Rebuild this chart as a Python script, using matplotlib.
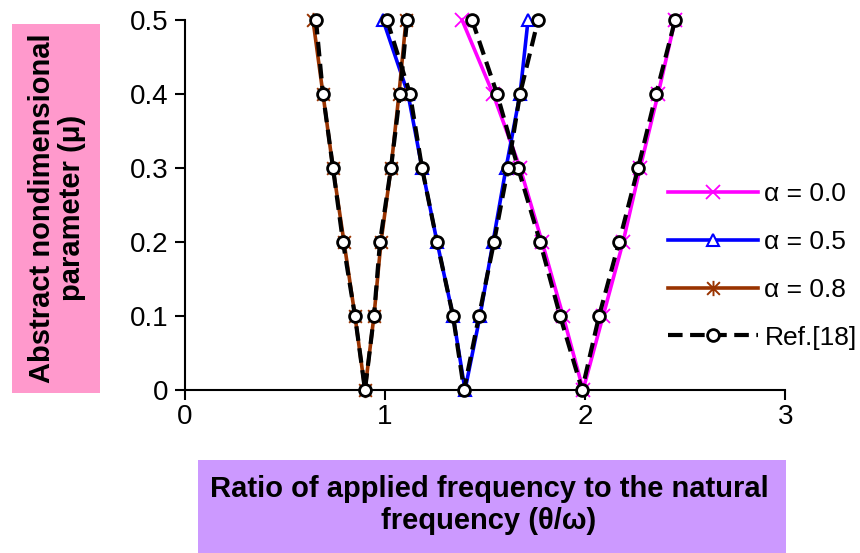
import matplotlib
matplotlib.use("Agg")
import matplotlib.pyplot as plt
from matplotlib.patches import Rectangle
from matplotlib.path import Path

plt.rcParams['font.family'] = ['Liberation Sans', 'DejaVu Sans']

# mu values along each V: down the left branch, then up the right branch
mu = [0.5, 0.4, 0.3, 0.2, 0.1, 0.0, 0.1, 0.2, 0.3, 0.4, 0.5]

# present results, theta/omega for each mu
a00 = [1.385, 1.54, 1.675, 1.785, 1.89, 1.99, 2.09, 2.19, 2.275, 2.365, 2.45]
a05 = [0.99, 1.115, 1.185, 1.26, 1.34, 1.40, 1.475, 1.54, 1.605, 1.675, 1.715]
a08 = [0.64, 0.69, 0.74, 0.795, 0.85, 0.90, 0.945, 0.98, 1.03, 1.07, 1.105]

# Ref.[18]
ref00 = [1.435, 1.56, 1.665, 1.775, 1.875, 1.985, 2.07, 2.17, 2.265, 2.355, 2.45]
ref05 = [1.01, 1.125, 1.185, 1.26, 1.34, 1.395, 1.47, 1.545, 1.615, 1.675, 1.765]
ref08 = [0.655, 0.69, 0.74, 0.79, 0.85, 0.90, 0.945, 0.975, 1.03, 1.075, 1.11]

labels = ['α = 0.0', 'α = 0.5', 'α = 0.8', 'Ref.[18]']

# excel style star: an x with a vertical bar
star = Path([(-1, -1), (1, 1), (-1, 1), (1, -1), (0, -1.2), (0, 1.2)],
            [Path.MOVETO, Path.LINETO, Path.MOVETO, Path.LINETO, Path.MOVETO, Path.LINETO])

fig = plt.figure(figsize=(8.6, 5.53), dpi=100)
ax = fig.add_axes([0.215, 0.295, 0.698, 0.669])

ax.plot(a00, mu, color='#FF00FF', lw=2.6, marker='x', ms=10, mew=1.3,
        label=labels[0], clip_on=False, zorder=3)
ax.plot(a05, mu, color='#0000FF', lw=2.6, marker='^', ms=9, mew=1.5,
        mfc='white', label=labels[1], clip_on=False, zorder=3)
ax.plot(a08, mu, color='#993300', lw=2.6, marker=star, ms=11, mew=1.4,
        label=labels[2], clip_on=False, zorder=3)
for i, r in enumerate([ref00, ref05, ref08]):
    ax.plot(r, mu, color='black', lw=3, dashes=(3.5, 1.8), marker='o', ms=8.5,
            mfc='white', mew=2, label=labels[3] if i == 0 else None,
            clip_on=False, zorder=4)

ax.set_xlim(0, 3)
ax.set_ylim(0, 0.5)
ax.set_xticks([0, 1, 2, 3])
ax.set_xticklabels(['0', '1', '2', '3'])
ax.set_yticks([0, 0.1, 0.2, 0.3, 0.4, 0.5])
ax.set_yticklabels(['0', '0.1', '0.2', '0.3', '0.4', '0.5'])
ax.spines['top'].set_visible(False)
ax.spines['right'].set_visible(False)
for s in ['left', 'bottom']:
    ax.spines[s].set_linewidth(1.5)
ax.tick_params(axis='both', labelsize=20, width=1.5, length=7, direction='out')
ax.tick_params(axis='x', pad=3)
ax.tick_params(axis='y', pad=5)

leg = ax.legend(loc='center left', bbox_to_anchor=(0.805, 0.335), frameon=False,
                fontsize=19, handlelength=3.4, handletextpad=0.25,
                labelspacing=0.9, borderpad=0, borderaxespad=0)

# coloured boxes behind the axis titles
fig.patches.append(Rectangle((12 / 860, 1 - 393 / 553), 88 / 860, 369 / 553,
                             transform=fig.transFigure, facecolor='#FF99CC',
                             edgecolor='none', zorder=0))
fig.text(57 / 860, 1 - 208 / 553, 'Abstract nondimensional\nparameter (μ)',
         rotation=90, ha='center', va='center', fontsize=21, fontweight='bold',
         linespacing=1.1)

fig.patches.append(Rectangle((198 / 860, 0.0), 588 / 860, 93 / 553,
                             transform=fig.transFigure, facecolor='#CC99FF',
                             edgecolor='none', zorder=0))
fig.text(489 / 860, 1 - 505 / 553,
         'Ratio of applied frequency to the natural\nfrequency (θ/ω)',
         ha='center', va='center', fontsize=21, fontweight='bold',
         linespacing=1.2)

fig.savefig('out.png', dpi=100)
